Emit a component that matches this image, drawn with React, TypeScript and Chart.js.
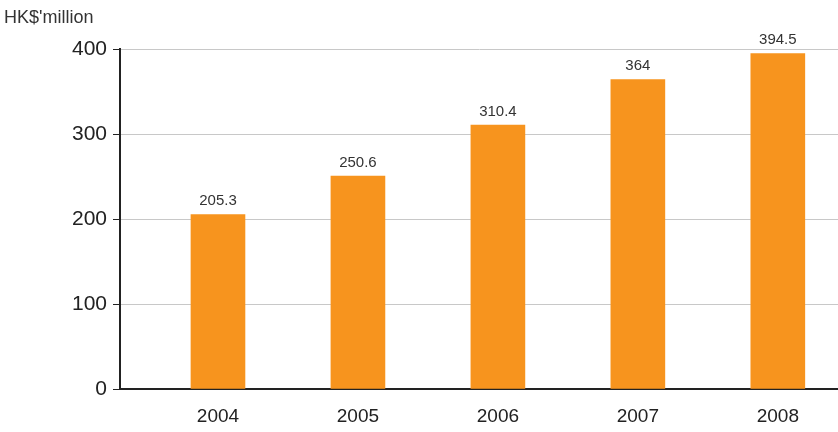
import { useEffect, useRef } from 'react';
import Chart from 'chart.js/auto';

const years = [2004, 2005, 2006, 2007, 2008];
const values = [205.3, 250.6, 310.4, 364, 394.5];
const valueLabels = ['205.3', '250.6', '310.4', '364', '394.5'];
const yTicks = [0, 100, 200, 300, 400];

const FONT = '"Liberation Sans", Arial, sans-serif';

const labelPlugin = {
  id: 'labels',
  afterDatasetsDraw(chart: any) {
    const ctx = chart.ctx;
    const meta = chart.getDatasetMeta(0);
    ctx.save();
    ctx.fillStyle = '#333';
    ctx.font = `15px ${FONT}`;
    ctx.textAlign = 'center';
    ctx.textBaseline = 'bottom';
    meta.data.forEach((bar: any, i: number) => {
      ctx.fillText(valueLabels[i], bar.x, bar.y - 6);
    });
    ctx.font = `18px ${FONT}`;
    ctx.textAlign = 'left';
    ctx.textBaseline = 'middle';
    ctx.fillText("HK$'million", 4, 18);
    ctx.restore();
  },
};

export default function App() {
  const canvasRef = useRef<HTMLCanvasElement>(null);

  useEffect(() => {
    document.body.style.margin = '0';
    const canvas = canvasRef.current;
    if (!canvas) return;
    const chart = new Chart(canvas, {
      type: 'bar',
      data: {
        datasets: [{
          data: years.map((y, i) => ({ x: y, y: values[i] })),
          backgroundColor: '#f7941e',
          barThickness: 54,
        }],
      },
      plugins: [labelPlugin],
      options: {
        animation: false,
        responsive: true,
        maintainAspectRatio: false,
        layout: { padding: { top: 49, right: 0, left: 0, bottom: 0 } },
        plugins: { legend: { display: false }, tooltip: { enabled: false } },
        scales: {
          x: {
            type: 'linear',
            offset: false,
            min: 2003.3,
            max: 2008.43,
            afterBuildTicks: (axis: any) => { axis.ticks = years.map(v => ({ value: v })); },
            afterFit: (axis: any) => { axis.height = 43; },
            ticks: { color: '#222', font: { size: 19, family: FONT }, padding: 8, callback: (v: any) => String(v) },
            grid: { display: false },
            border: { color: '#222', width: 2 },
          },
          y: {
            min: 0,
            max: 400,
            afterBuildTicks: (axis: any) => { axis.ticks = yTicks.map(v => ({ value: v })); },
            afterFit: (axis: any) => { axis.width = 120; },
            ticks: { color: '#222', font: { size: 21, family: FONT }, padding: 6 },
            grid: { color: '#c8c8c8', tickLength: 7, tickColor: '#222' },
            border: { color: '#222', width: 2 },
          },
        },
      },
    });
    return () => chart.destroy();
  }, []);

  return (
    <div style={{ width: 838, height: 432 }}>
      <canvas ref={canvasRef} />
    </div>
  );
}
